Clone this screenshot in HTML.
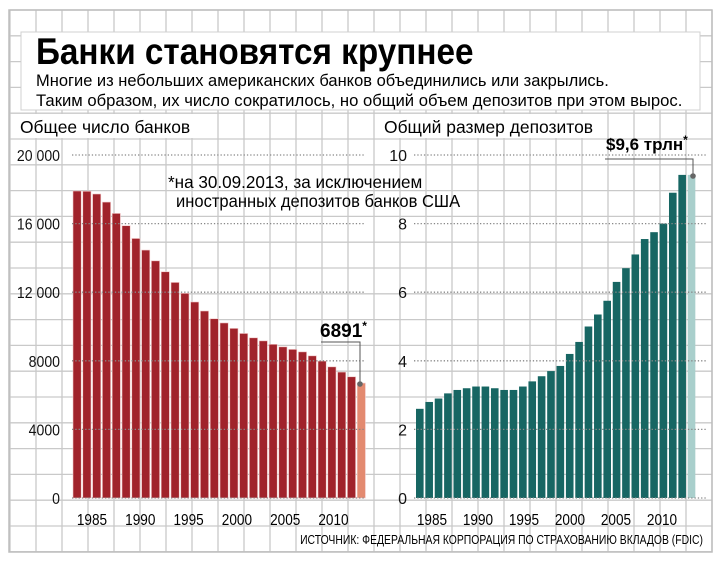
<!DOCTYPE html>
<html><head><meta charset="utf-8"><style>
html,body{margin:0;padding:0;background:#fff;}
svg{display:block;font-family:"Liberation Sans",sans-serif;}
</style></head><body>
<svg id="s" width="723" height="561" viewBox="0 0 723 561" xmlns="http://www.w3.org/2000/svg"></svg>
<script>
(function(){
var s=document.getElementById('s'),h='';
h+='<rect x="0" y="0" width="723" height="561" fill="#fff"/>';
for(var x=10;x<=713;x+=26)h+='<line x1="'+x+'" y1="10" x2="'+x+'" y2="552" stroke="#c9c9c9" stroke-width="1.3"/>';
for(var i=0;i<=21;i++){var y=10+i*25.8;h+='<line x1="10" y1="'+y+'" x2="712" y2="'+y+'" stroke="#c9c9c9" stroke-width="1.3"/>';}
h+='<rect x="9" y="10" width="703" height="542" fill="none" stroke="#bdbdbd" stroke-width="1.5"/>';
h+='<rect x="21" y="32" width="679" height="78" fill="#fff" stroke="#d0d0d0"/>';
h+='<text x="36" y="64" font-size="37" font-weight="bold" transform="translate(36 0) scale(0.9 1) translate(-36 0)">Банки становятся крупнее</text>';
h+='<text x="36" y="86" font-size="17" transform="translate(36 0) scale(0.97 1) translate(-36 0)">Многие из небольших американских банков объединились или закрылись.</text>';
h+='<text x="36" y="106" font-size="17" transform="translate(36 0) scale(0.98 1) translate(-36 0)">Таким образом, их число сократилось, но общий объем депозитов при этом вырос.</text>';
h+='<rect x="18" y="114" width="180" height="24" fill="#fff"/><rect x="380" y="114" width="225" height="24" fill="#fff"/>';
h+='<text x="20" y="133" font-size="18" transform="translate(20 0) scale(0.97 1) translate(-20 0)">Общее число банков</text>';
h+='<text x="384" y="133" font-size="18" transform="translate(384 0) scale(0.97 1) translate(-384 0)">Общий размер депозитов</text>';
var T=155,base=498,H=base-T;
var L=[17901,17886,17726,17255,16594,15876,15133,14457,13828,13191,12570,11936,11429,10904,10452,10207,9890,9594,9340,9162,8961,8813,8665,8520,8289,7985,7647,7343,7068,6700];
var ticks=['20 000','16 000','12 000','8000','4000','0'];
for(var i=0;i<6;i++){var y=T+i*H/5;
 h+='<text x="60" y="'+(y+6)+'" font-size="16" text-anchor="end" transform="translate(60 0) scale(0.88 1) translate(-60 0)" fill="#111">'+ticks[i]+'</text>';}
for(var i=0;i<30;i++){var v=L[i],bh=v/20000*H,x=73+i*9.8;
 h+='<rect x="'+x+'" y="'+(base-bh)+'" width="8.2" height="'+bh+'" fill="'+(i==29?'#e38a70':'#a0232b')+'" stroke="#f2c9c9" stroke-width="0.6"/>';}
for(var i=0;i<6;i++){var y=T+i*H/5;h+='<line x1="72" y1="'+y+'" x2="364" y2="'+y+'" stroke="#888" stroke-width="1.3" stroke-dasharray="1.3 2"/>';}
for(var i=0;i<6;i++){var yr=1985+i*5,cx=92+i*48.3;
 h+='<text x="'+cx+'" y="525" font-size="16" text-anchor="middle" transform="translate('+cx+' 0) scale(0.85 1) translate(-'+cx+' 0)">'+yr+'</text>';}
var R=[2.6,2.8,2.9,3.05,3.15,3.2,3.25,3.25,3.2,3.15,3.15,3.25,3.4,3.55,3.7,3.85,4.2,4.55,5.0,5.35,5.75,6.3,6.7,7.1,7.55,7.75,8.0,8.9,9.42,9.42];
var rt=['10','8','6','4','2','0'];
for(var i=0;i<6;i++){var y=T+i*H/5;
 h+='<text x="407" y="'+(y+6)+'" font-size="16" text-anchor="end" fill="#111">'+rt[i]+'</text>';}
for(var i=0;i<30;i++){var v=R[i],bh=v/10*H,x=416+i*9.37;
 h+='<rect x="'+x+'" y="'+(base-bh)+'" width="7.6" height="'+bh+'" fill="'+(i==29?'#a9cfcc':'#176663')+'"/>';}
for(var i=0;i<6;i++){var y=T+i*H/5;h+='<line x1="414" y1="'+y+'" x2="706" y2="'+y+'" stroke="#888" stroke-width="1.3" stroke-dasharray="1.3 2"/>';}
for(var i=0;i<6;i++){var yr=1985+i*5,cx=432+i*46;
 h+='<text x="'+cx+'" y="525" font-size="16" text-anchor="middle" transform="translate('+cx+' 0) scale(0.85 1) translate(-'+cx+' 0)">'+yr+'</text>';}
h+='<text x="168" y="188" font-size="18" transform="translate(168 0) scale(0.95 1) translate(-168 0)">*на 30.09.2013, за исключением</text>';
h+='<text x="176" y="207" font-size="18" transform="translate(176 0) scale(0.92 1) translate(-176 0)">иностранных депозитов банков США</text>';
h+='<text x="320" y="337" font-size="19" font-weight="bold">6891<tspan font-size="12" dy="-7">*</tspan></text>';
h+='<polyline points="321,342 360,342 360,384" fill="none" stroke="#555" stroke-width="1"/><circle cx="360" cy="384" r="2.8" fill="#666"/>';
h+='<text x="606" y="150" font-size="17" font-weight="bold">$9,6 трлн<tspan font-size="12" dy="-6">*</tspan></text>';
h+='<polyline points="605,159 693,159 693,176" fill="none" stroke="#555" stroke-width="1"/><circle cx="693" cy="176" r="2.8" fill="#666"/>';
h+='<text x="703" y="544" font-size="13" text-anchor="end" transform="translate(703 0) scale(0.8 1) translate(-703 0)">ИСТОЧНИК: ФЕДЕРАЛЬНАЯ КОРПОРАЦИЯ ПО СТРАХОВАНИЮ ВКЛАДОВ (FDIC)</text>';
s.innerHTML=h;
})();
</script>
</body></html>
